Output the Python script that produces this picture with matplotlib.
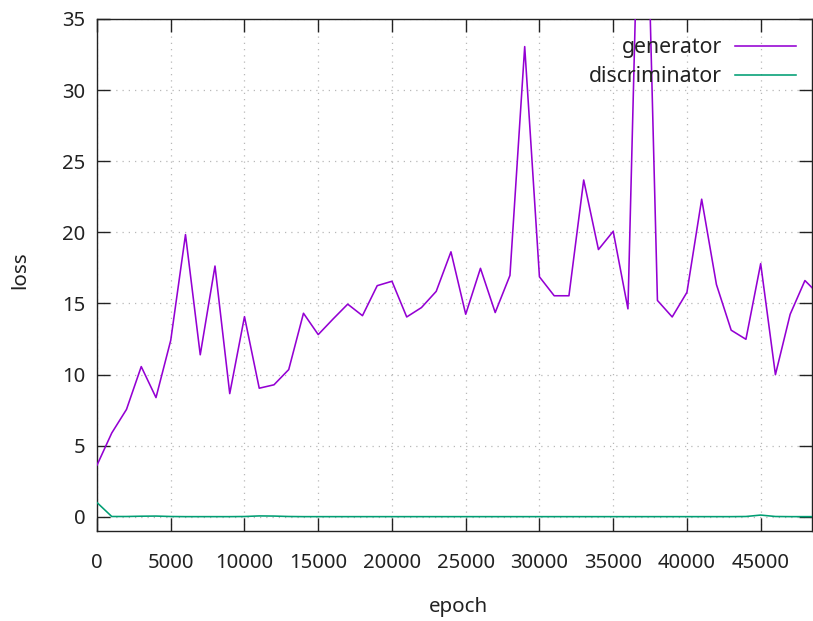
import matplotlib
matplotlib.use("Agg")
import matplotlib.pyplot as plt

epochs = list(range(0, 50000, 1000))
generator = [3.63, 5.89, 7.55, 10.56, 8.38, 12.41, 19.84, 11.39, 17.63, 8.66,
             14.07, 9.04, 9.28, 10.35, 14.31, 12.81, 13.90, 14.95, 14.14, 16.25,
             16.56, 14.05, 14.71, 15.85, 18.63, 14.24, 17.47, 14.36, 16.97, 33.06,
             16.87, 15.54, 15.54, 23.68, 18.79, 20.07, 14.62, 56.0, 15.21, 14.05,
             15.78, 22.33, 16.33, 13.12, 12.48, 17.80, 9.99, 14.24, 16.61, 15.57]
discriminator = [1.00, 0.02, 0.02, 0.04, 0.05, 0.02, 0.01, 0.01, 0.01, 0.01,
                 0.02, 0.06, 0.05, 0.02, 0.01, 0.01, 0.01, 0.01, 0.01, 0.01,
                 0.01, 0.01, 0.01, 0.01, 0.01, 0.01, 0.01, 0.01, 0.01, 0.01,
                 0.01, 0.01, 0.01, 0.01, 0.01, 0.01, 0.01, 0.01, 0.01, 0.01,
                 0.01, 0.01, 0.01, 0.01, 0.02, 0.12, 0.02, 0.01, 0.01, 0.01]
xticks = [0, 5000, 10000, 15000, 20000, 25000, 30000, 35000, 40000, 45000]
yticks = [0, 5, 10, 15, 20, 25, 30, 35]

plt.rcParams['font.family'] = ['Noto Sans', 'DejaVu Sans']
txt = '#222222'

W, H = 813, 621
fig = plt.figure(figsize=(W / 100, H / 100), dpi=100)
ax = fig.add_axes([97 / W, 1 - 531 / H, (812 - 97) / W, (531 - 19) / H])

ax.plot(epochs, generator, color='#9400d3', lw=1.15, label='generator', zorder=3)
ax.plot(epochs, discriminator, color='#009e73', lw=1.15, label='discriminator', zorder=3)

ax.set_xlim(0, 48480)
ax.set_ylim(-1, 35)
ax.set_xticks(xticks)
ax.set_yticks(yticks)
ax.grid(True, color='#b8b8b8', linestyle=(0, (1, 4)), lw=0.9, zorder=1)

ax.tick_params(direction='in', length=9.5, width=1.0, colors='#222222',
               top=True, right=True, labelsize=14.6)
ax.tick_params(axis='x', pad=16)
ax.tick_params(axis='y', pad=8.5)
for t in ax.get_xticklabels() + ax.get_yticklabels():
    t.set_color(txt)
for s in ax.spines.values():
    s.set_color('#222222')
    s.set_linewidth(1.0)

fig.text(20 / W, 1 - 270 / H, 'loss', rotation=90, ha='center', va='center',
         fontsize=14.8, color=txt)
fig.text(458 / W, 1 - 607 / H, 'epoch', ha='center', va='center',
         fontsize=14.8, color=txt)

leg = ax.legend(loc='upper right', bbox_to_anchor=(796 / W, 1 - 37 / H),
                bbox_transform=fig.transFigure, frameon=False, markerfirst=False,
                fontsize=15.3, handlelength=2.85, handletextpad=0.65,
                labelspacing=0.38, borderpad=0, borderaxespad=0)
for t in leg.get_texts():
    t.set_color(txt)
    t.set_ha('right')
leg._legend_box.align = 'right'

fig.savefig('out.png', dpi=100)
